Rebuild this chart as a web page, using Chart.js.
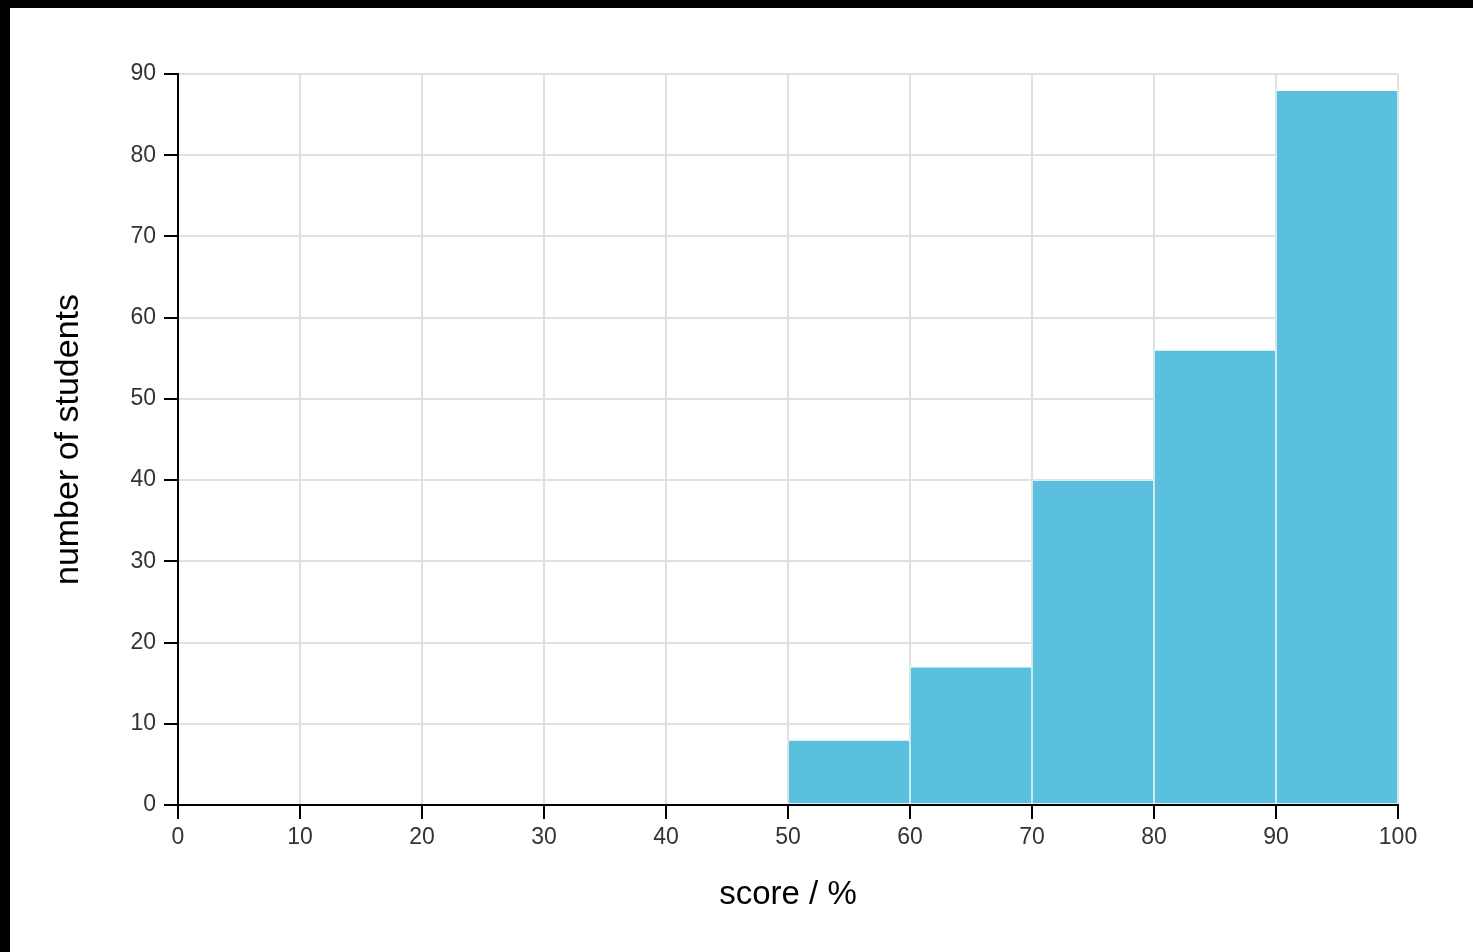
<!DOCTYPE html>
<html>
<head>
<meta charset="utf-8">
<title>Score histogram</title>
<script src="https://cdn.jsdelivr.net/npm/chart.js@4"></script>
<style>
    html, body { margin: 0; padding: 0; background: #000; overflow: hidden; }
    #panel {
        position: absolute;
        left: 10px; top: 8px;
        width: 1463px; height: 944px;
        background: #fff;
    }
</style>
</head>
<body>
<div id="panel"><canvas id="histChart"></canvas></div>
<script>
// Histogram data: 10-point score bins
const binMids   = [5, 15, 25, 35, 45, 55, 65, 75, 85, 95];
const binCounts = [0, 0, 0, 0, 0, 8, 17, 40, 56, 88];
const xTicks    = [0, 10, 20, 30, 40, 50, 60, 70, 80, 90, 100];
const yTicks    = [0, 10, 20, 30, 40, 50, 60, 70, 80, 90];

const FONT = "'Liberation Sans', Arial, Helvetica, sans-serif";

// axis lines go on top of the bars (like the d3 original)
const axisLines = {
    id: 'axisLines',
    afterDatasetsDraw(chart) {
        const { ctx, scales: { x, y } } = chart;
        const x0 = x.getPixelForValue(xTicks[0]);
        const x1 = x.getPixelForValue(xTicks[xTicks.length - 1]);
        const y0 = y.getPixelForValue(yTicks[0]);
        const y1 = y.getPixelForValue(yTicks[yTicks.length - 1]);
        ctx.save();
        ctx.strokeStyle = '#000';
        ctx.lineWidth = 2;
        ctx.beginPath();
        ctx.moveTo(x0, y1 - 1);
        ctx.lineTo(x0, y0);
        ctx.lineTo(x1 + 1, y0);
        ctx.stroke();
        ctx.restore();
    }
};

new Chart(document.getElementById('histChart'), {
    type: 'bar',
    data: {
        datasets: [{
            label: 'students',
            data: binMids.map((m, i) => ({ x: m, y: binCounts[i] })),
            backgroundColor: '#5bc0de',
            borderColor: '#ffffff',
            borderWidth: 1,
            borderSkipped: false,
            barPercentage: 1,
            categoryPercentage: 1,
        }]
    },
    options: {
        responsive: true,
        maintainAspectRatio: false,
        animation: false,
        devicePixelRatio: 1,
        layout: { padding: { top: 66, right: 75, left: 0, bottom: 0 } },
        plugins: {
            legend: { display: false },
            tooltip: { enabled: false }
        },
        scales: {
            x: {
                type: 'linear',
                min: 0,
                max: 100,
                offset: false,
                afterFit: s => { s.height = 147; },
                afterBuildTicks: s => { s.ticks = xTicks.map(v => ({ value: v })); },
                grid: {
                    offset: false,
                    color: '#e0e0e0',
                    lineWidth: 2,
                    tickColor: '#000',
                    tickWidth: 2,
                    tickLength: 14,
                },
                border: { display: false },
                ticks: {
                    color: '#333',
                    padding: 5,
                    maxRotation: 0,
                    font: { family: FONT, size: 23 },
                },
                title: {
                    display: true,
                    text: 'score / %',
                    color: '#000',
                    padding: { top: 0, bottom: 37 },
                    font: { family: FONT, size: 33 },
                }
            },
            y: {
                min: 0,
                max: 90,
                afterFit: s => { s.width = 168; },
                afterBuildTicks: s => { s.ticks = yTicks.map(v => ({ value: v })); },
                grid: {
                    color: '#e0e0e0',
                    lineWidth: 2,
                    tickColor: '#000',
                    tickWidth: 2,
                    tickLength: 14,
                },
                border: { display: false },
                ticks: {
                    color: '#333',
                    padding: 8,
                    font: { family: FONT, size: 23 },
                },
                title: {
                    display: true,
                    text: 'number of students',
                    color: '#000',
                    padding: { top: 38, bottom: 0 },
                    font: { family: FONT, size: 34 },
                }
            }
        }
    },
    plugins: [axisLines]
});
</script>
</body>
</html>
